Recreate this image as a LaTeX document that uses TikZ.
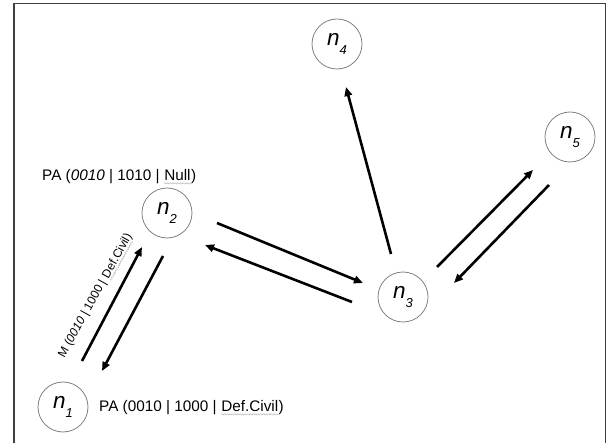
\documentclass[tikz,border=0pt]{standalone}
\usepackage{fontspec}
\setmainfont{Liberation Sans}
\usetikzlibrary{arrows.meta,decorations.pathmorphing}
\definecolor{ringgray}{gray}{0.5}
\definecolor{framegray}{gray}{0.25}

% wavy grey underline, as a spell checker marks a word
\newcommand\spellchk[1]{\tikz[baseline=(w.base)]{\node[inner sep=0pt] (w) {#1};
  \draw[gray!55,line width=0.5pt,decorate,decoration={snake,amplitude=0.7pt,segment length=2.6pt}]
    ([yshift=-2.6pt]w.base west) -- ([yshift=-2.6pt]w.base east);}}
% station name n with a lowered index
\newcommand\nsub[1]{{\fontsize{22.5}{24}\selectfont\itshape n}\raisebox{-9.5pt}{\fontsize{13}{14}\selectfont\itshape #1}}

\begin{document}
\begin{tikzpicture}[x=1pt,y=-1pt,
  station/.style={circle,draw=ringgray,line width=0.8pt,minimum size=50pt,inner sep=0pt},
  msg/.style={line width=2.6pt,-{Triangle[length=9pt,width=7.5pt]}},
  lbl/.style={inner sep=0pt,font=\fontsize{15.3}{17}\selectfont}]
  \useasboundingbox (0,0) rectangle (610,443);
  \draw[framegray,line width=1.8pt] (14,443) -- (14,3.5) -- (605.5,3.5) -- (605.5,443);

  % stations
  \node[station] (n1) at (63,407) {\nsub{1}};
  \node[station] (n2) at (167,213) {\nsub{2}};
  \node[station] (n3) at (403,297) {\nsub{3}};
  \node[station] (n4) at (337,44) {\nsub{4}};
  \node[station] (n5) at (570,137) {\nsub{5}};

  % messages, each one a little off the line between centres
  \draw[msg] ([shift={(19,-46)}]n1.center) -- ([shift={(-25,34)}]n2.center);
  \draw[msg] ([shift={(-4,43)}]n2.center) -- ([shift={(39,-36)}]n1.center);
  \draw[msg] ([shift={(50,10)}]n2.center) -- ([shift={(-40,-14)}]n3.center);
  \draw[msg] ([shift={(-51,5)}]n3.center) -- ([shift={(38,32)}]n2.center);
  \draw[msg] ([shift={(-12,-43)}]n3.center) -- ([shift={(9,43)}]n4.center);
  \draw[msg] ([shift={(34,-30)}]n3.center) -- ([shift={(-37,33)}]n5.center);
  \draw[msg] ([shift={(-21,48)}]n5.center) -- ([shift={(51,-14)}]n3.center);

  % packet contents
  \node[lbl,anchor=west] (pa2) at (42,177) {PA (\textit{0010} | 1010 | \spellchk{Null})};
  \node[lbl,anchor=west] (pa1) at (99,408) {PA (0010 | 1000 | \spellchk{Def.Civil})};
  \node[inner sep=0pt,font=\fontsize{12}{14}\selectfont,rotate=61] (m12) at (96,296)
    {M (\textit{0010} | 1000 | \spellchk{Def.Civil})};
\end{tikzpicture}
\end{document}
